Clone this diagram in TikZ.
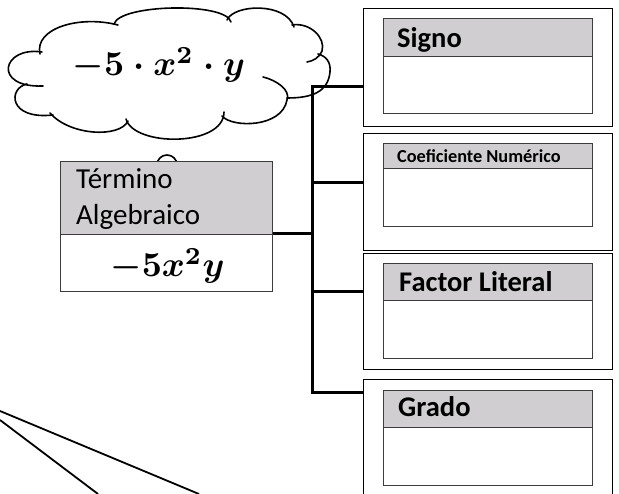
\documentclass[tikz,border=0pt]{standalone}
\usepackage{graphicx}
\usepackage{fontspec}
\setmainfont{Carlito}
\definecolor{hdr}{RGB}{208,206,209}
\definecolor{edge}{RGB}{60,60,60}
\tikzset{
  outerbox/.style={draw=black, line width=1.3pt, fill=white, inner sep=0pt, anchor=north west, minimum width=249pt},
  hdrbox/.style={draw=edge, line width=0.9pt, fill=hdr, inner sep=0pt, anchor=north west},
  bodybox/.style={draw=edge, line width=0.9pt, fill=white, inner sep=0pt, anchor=north west},
  lbl/.style={inner sep=0pt, anchor=base west, font=\fontsize{29}{34}\selectfont},
  headlbl/.style={inner sep=0pt, anchor=base west, font=\fontsize{28.5}{34}\selectfont\bfseries},
  smalllbl/.style={inner sep=0pt, anchor=base west, font=\fontsize{18.3}{22}\selectfont\bfseries},
  mathlbl/.style={inner sep=0pt, anchor=base},
  link/.style={line width=3pt, line join=miter},
  cloudline/.style={line width=1.6pt, line cap=round},
  thinline/.style={line width=1.8pt}
}
\begin{document}
\begin{tikzpicture}[x=1pt,y=-1pt]
\clip (0,0) rectangle (619,494);
\fill[white] (0,0) rectangle (619,494);

% cloud
\draw[cloudline] (42,52) .. controls (2,46) and (-8,88) .. (43,86);
\draw[cloudline] (40,54) .. controls (34,28) and (80,15) .. (118,25);
\draw[cloudline] (114,24) .. controls (120,4) and (226,2) .. (231,22);
\draw[cloudline] (227,20) .. controls (234,4) and (286,2) .. (294,27);
\draw[cloudline] (292,25) .. controls (310,22) and (326,38) .. (322,51) .. controls (319,58) and (313,61) .. (307,62);
\draw[cloudline] (318,54) .. controls (326,56) and (331,62) .. (330,72) .. controls (328,92) and (312,98) .. (287,98);
\draw[cloudline] (263,77) .. controls (276,80) and (291,90) .. (287,100) .. controls (282,128) and (232,128) .. (222,116);
\draw[cloudline] (224,112) .. controls (224,147) and (134,147) .. (126,119);
\draw[cloudline] (128,121) .. controls (120,138) and (70,136) .. (50,113);
\draw[cloudline] (53,115) .. controls (8,120) and (8,88) .. (27,84);
\node[mathlbl] (cloudmath) at (159,76) {\scalebox{3.5}{\boldmath$-5\cdot x^{2}\cdot y$}};
\draw[cloudline] (167,165) circle (10);

% termino box
\node[hdrbox, minimum width=212pt, minimum height=73pt] (termh) at (60,161) {};
\node[bodybox, minimum width=212pt, minimum height=57pt] (termb) at (60,234) {};
\node[lbl] (t1txt) at (76,188.3) {Término};
\node[lbl] (t2txt) at (76,224.3) {Algebraico};
\node[mathlbl] (termmath) at (167.5,277) {\scalebox{3.5}{\boldmath$-5x^{2}y$}};

% right boxes
\node[outerbox, minimum height=118pt] (box1) at (363,8) {};
\node[outerbox, minimum height=117pt] (box2) at (363,133) {};
\node[outerbox, minimum height=116pt] (box3) at (363,253) {};
\node[outerbox, minimum height=125pt] (box4) at (363,379) {};

\node[hdrbox, minimum width=209pt, minimum height=38pt] (h1) at (383,18) {};
\node[bodybox, minimum width=209pt, minimum height=57pt] (b1) at (383,56) {};
\node[hdrbox, minimum width=209pt, minimum height=25pt] (h2) at (383,143) {};
\node[bodybox, minimum width=209pt, minimum height=58pt] (b2) at (383,168) {};
\node[hdrbox, minimum width=209pt, minimum height=37pt] (h3) at (383,263) {};
\node[bodybox, minimum width=209pt, minimum height=58pt] (b3) at (383,300) {};
\node[hdrbox, minimum width=209pt, minimum height=37pt] (h4) at (383,390) {};
\node[bodybox, minimum width=209pt, minimum height=58pt] (b4) at (383,427) {};

\node[headlbl] (l1) at (397,47.5) {Signo};
\node[smalllbl] (l2) at (397,162.7) {Coeficiente Numérico};
\node[headlbl] (l3) at (399,291.7) {Factor Literal};
\node[headlbl] (l4) at (398,416.7) {Grado};

% connectors
\coordinate (c1) at (312,87);
\coordinate (c2) at (312,183);
\coordinate (c3) at (312,292);
\coordinate (c4) at (312,393);
\draw[link] (c1 -| box1.west) -- (c1) -- (c4) -- (c4 -| box4.west);
\draw[link] (c2) -- (c2 -| box2.west);
\draw[link] (c3) -- (c3 -| box3.west);
\draw[link] (termb.north east) -- (termb.north east -| c1);

% lines bottom-left
\coordinate (la1) at (0,411);
\coordinate (la2) at (199,494);
\coordinate (lb1) at (0,420);
\coordinate (lb2) at (98,494);
\draw[thinline] (la1) -- (la2);
\draw[thinline] (lb1) -- (lb2);
\end{tikzpicture}
\end{document}
